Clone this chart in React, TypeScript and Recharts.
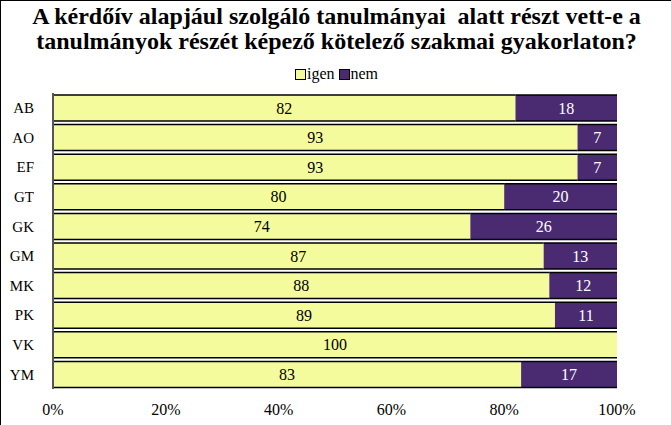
import React from 'react';
import { BarChart, Bar, XAxis, YAxis, LabelList } from 'recharts';

const categories = ['AB', 'AO', 'EF', 'GT', 'GK', 'GM', 'MK', 'PK', 'VK', 'YM'];
const igenValues = [82, 93, 93, 80, 74, 87, 88, 89, 100, 83];
const nemValues = [18, 7, 7, 20, 26, 13, 12, 11, 0, 17];
const xTicks = [0, 20, 40, 60, 80, 100];

const data = categories.map((c, i) => ({ name: c, igen: igenValues[i], nem: nemValues[i] }));

const YELLOW = '#f3fb9c';
const PURPLE = '#4a2b72';
const FONT = "'Liberation Serif'";

const BarShape = (fill: string) => (props: any) => {
  const { x, y, width, height } = props;
  if (!width || width <= 0) return null;
  return (
    <g>
      <rect x={x} y={y} width={width} height={height} fill={fill} />
      <line x1={x} x2={x + width} y1={y} y2={y} stroke="#000" strokeWidth={1.5} />
      <line x1={x} x2={x + width} y1={y + height} y2={y + height} stroke="#000" strokeWidth={1.5} />
    </g>
  );
};

const labelFmt = (v: any) => (v ? String(v) : '');

export default function App() {
  return (
    <div
      style={{
        position: 'absolute',
        left: 0,
        top: 0,
        width: 671,
        height: 425,
        background: '#fff',
        fontFamily: FONT,
        boxSizing: 'border-box',
        borderLeft: '1px solid #000',
        borderTop: '1px solid #000',
      }}
    >
      <div
        style={{
          position: 'absolute',
          left: 0,
          top: 3,
          width: 671,
          textAlign: 'center',
          fontWeight: 'bold',
          fontSize: 24,
          lineHeight: '25px',
          whiteSpace: 'pre',
          color: '#000',
          fontFamily: FONT,
        }}
      >
        {'A kérdőív alapjául szolgáló tanulmányai  alatt részt vett-e a\ntanulmányok részét képező kötelező szakmai gyakorlaton?'}
      </div>
      <div
        style={{
          position: 'absolute',
          left: 0,
          top: 64,
          width: 671,
          display: 'flex',
          justifyContent: 'center',
          alignItems: 'center',
          fontSize: 16,
          lineHeight: '18px',
          color: '#000',
          fontFamily: FONT,
        }}
      >
        <span style={{ display: 'inline-block', width: 9, height: 9, background: YELLOW, border: '1px solid #000', marginRight: 1 }} />
        <span style={{ marginRight: 4 }}>igen</span>
        <span style={{ display: 'inline-block', width: 9, height: 9, background: PURPLE, border: '1px solid #000', marginRight: 1 }} />
        <span>nem</span>
      </div>
      <div style={{ position: 'absolute', left: 0, top: 0 }}>
        <BarChart
          width={671}
          height={425}
          data={data}
          layout="vertical"
          barSize={26}
          margin={{ top: 92, right: 55, bottom: 0, left: 0 }}
        >
          <XAxis
            type="number"
            domain={[0, 100]}
            ticks={xTicks}
            tickFormatter={(v: number) => `${v}%`}
            axisLine={false}
            tickLine={false}
            tickMargin={9}
            height={37}
            tick={{ fill: '#000', fontSize: 16, fontFamily: FONT }}
            interval={0}
          />
          <YAxis
            type="category"
            dataKey="name"
            width={52}
            axisLine={{ stroke: '#555', strokeWidth: 2 }}
            tickLine={false}
            tickMargin={13}
            tick={{ fill: '#000', fontSize: 15, fontFamily: FONT }}
            interval={0}
          />
          <Bar dataKey="igen" stackId="a" fill={YELLOW} shape={BarShape(YELLOW)} isAnimationActive={false}>
            <LabelList dataKey="igen" position="center" fill="#000" fontSize={16} fontFamily={FONT} formatter={labelFmt} />
          </Bar>
          <Bar dataKey="nem" stackId="a" fill={PURPLE} shape={BarShape(PURPLE)} isAnimationActive={false}>
            <LabelList dataKey="nem" position="center" fill="#fff" fontSize={16} fontFamily={FONT} formatter={labelFmt} />
          </Bar>
        </BarChart>
      </div>
    </div>
  );
}
